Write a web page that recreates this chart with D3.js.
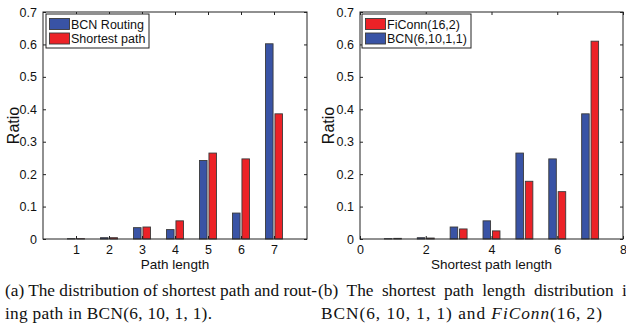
<!DOCTYPE html>
<html lang="en">
<head>
<meta charset="utf-8">
<title>Path length distribution</title>
<script src="https://d3js.org/d3.v7.min.js"></script>
<style>
  body { margin: 0; background: #fff; }
  svg text { font-family: "Liberation Sans", Arial, Helvetica, sans-serif; fill: #111; }
  .caption { font-family: "Liberation Serif", "Times New Roman", serif; font-size: 17.3px; }
</style>
</head>
<body>
<svg id="chart" width="626" height="330"></svg>
<script>
// ----- data -----
const lengthsA = [1, 2, 3, 4, 5, 6, 7];
const bcnRouting = [0.001, 0.004, 0.035, 0.029, 0.242, 0.080, 0.602];
const shortestPath = [0.001, 0.004, 0.037, 0.056, 0.265, 0.247, 0.386];

const lengthsB = [1, 2, 3, 4, 5, 6, 7];
const bcnShortest = [0.001, 0.004, 0.037, 0.056, 0.265, 0.247, 0.386];
const ficonnShortest = [0.002, 0.003, 0.031, 0.025, 0.178, 0.146, 0.610];

const yTicks = [0, 0.1, 0.2, 0.3, 0.4, 0.5, 0.6, 0.7];
const xTicksA = [1, 2, 3, 4, 5, 6, 7];
const xTicksB = [0, 2, 4, 6, 8];

// caption (b) first line is justified in the paper
const capBWords = ["(b)", "The", "shortest", "path", "length", "distribution", "in"];

const blue = "#3953a5";
const red = "#ec2227";

const svg = d3.select("#chart");

function drawPanel(cfg) {
  const top = 12, bottom = 239;
  const x = d3.scaleLinear().domain([0, 8]).range([cfg.left, cfg.right]);
  const y = d3.scaleLinear().domain([0, 0.7]).range([bottom, top]);
  const g = svg.append("g");

  // bars: MATLAB grouped style, width 0.229, offset +-0.143
  const bw = 0.229, off = 0.143;
  cfg.series.forEach(function (s, si) {
    const dx = si === 0 ? -off : off;
    g.selectAll(null)
      .data(s.values.map((v, i) => ({ k: cfg.cats[i], v: v })))
      .enter()
      .append("rect")
      .attr("x", d => x(d.k + dx - bw / 2))
      .attr("width", x(bw) - x(0))
      .attr("y", d => y(d.v))
      .attr("height", d => y(0) - y(d.v))
      .attr("fill", s.color)
      .attr("stroke", "#3a3a3a")
      .attr("stroke-width", 0.9);
  });

  // axes, MATLAB box with inward ticks
  const fmt = d => d === 0 ? "0" : d3.format(".1f")(d);
  g.append("g")
    .attr("transform", `translate(${cfg.left},0)`)
    .call(d3.axisLeft(y).tickValues(yTicks).tickFormat(fmt).tickSize(-3).tickPadding(6))
    .call(a => a.select(".domain").remove());
  g.append("g")
    .attr("transform", `translate(${cfg.right},0)`)
    .call(d3.axisRight(y).tickValues(yTicks).tickFormat("").tickSize(-3))
    .call(a => a.select(".domain").remove());
  g.append("g")
    .attr("transform", `translate(0,${bottom})`)
    .call(d3.axisBottom(x).tickValues(cfg.xTicks).tickFormat(d3.format("d")).tickSize(-3).tickPadding(6))
    .call(a => a.select(".domain").remove());
  g.append("g")
    .attr("transform", `translate(0,${top})`)
    .call(d3.axisTop(x).tickValues(cfg.xTicks).tickFormat("").tickSize(-3))
    .call(a => a.select(".domain").remove());
  g.selectAll(".tick text").style("font-size", "12.5px").attr("fill", "#111");
  g.selectAll(".tick line").attr("stroke", "#222");

  g.append("rect")
    .attr("x", cfg.left).attr("y", top)
    .attr("width", cfg.right - cfg.left).attr("height", bottom - top)
    .attr("fill", "none").attr("stroke", "#222").attr("stroke-width", 1);

  // axis titles
  g.append("text")
    .attr("transform", `translate(${cfg.yLabelX},${(top + bottom) / 2}) rotate(-90)`)
    .attr("text-anchor", "middle")
    .style("font-size", "16px")
    .text("Ratio");
  g.append("text")
    .attr("x", (cfg.left + cfg.right) / 2)
    .attr("y", 268.5)
    .attr("text-anchor", "middle")
    .style("font-size", "13.5px")
    .text(cfg.xLabel);

  // legend
  const lg = g.append("g").attr("transform", `translate(${cfg.legX},14)`);
  lg.append("rect")
    .attr("width", cfg.legW).attr("height", 34)
    .attr("fill", "#fff").attr("stroke", "#222").attr("stroke-width", 1);
  cfg.legend.forEach(function (s, i) {
    lg.append("rect")
      .attr("x", 3.5).attr("y", 4.5 + i * 14.5)
      .attr("width", 20).attr("height", 11)
      .attr("fill", s.color).attr("stroke", "#3a3a3a").attr("stroke-width", 0.9);
    lg.append("text")
      .attr("x", 25).attr("y", 14.5 + i * 14.5)
      .style("font-size", "12.5px")
      .text(s.name);
  });
}

drawPanel({
  left: 43, right: 307, cats: lengthsA, xTicks: xTicksA,
  series: [{ values: bcnRouting, color: blue }, { values: shortestPath, color: red }],
  legend: [{ name: "BCN Routing", color: blue }, { name: "Shortest path", color: red }],
  legX: 46, legW: 103, yLabelX: 19, xLabel: "Path length"
});

drawPanel({
  left: 360, right: 623, cats: lengthsB, xTicks: xTicksB,
  series: [{ values: bcnShortest, color: blue }, { values: ficonnShortest, color: red }],
  legend: [{ name: "FiConn(16,2)", color: red }, { name: "BCN(6,10,1,1)", color: blue }],
  legX: 362, legW: 109, yLabelX: 334, xLabel: "Shortest path length"
});

// captions
const cap = svg.append("g");
cap.append("text").attr("class", "caption").attr("x", 5).attr("y", 296)
  .attr("textLength", 312).attr("lengthAdjust", "spacing")
  .text("(a) The distribution of shortest path and rout-");
cap.append("text").attr("class", "caption").attr("x", 5).attr("y", 319)
  .attr("textLength", 207).attr("lengthAdjust", "spacing")
  .text("ing path in BCN(6, 10, 1, 1).");

// justified words: measure, then spread from 318 so the last word starts at 622
const bWords = cap.selectAll(null)
  .data(capBWords)
  .enter()
  .append("text")
  .attr("class", "caption")
  .attr("y", 296)
  .text(d => d);
const widths = bWords.nodes().map(n => n.getComputedTextLength());
const startX = 318, lastX = 622;
const used = d3.sum(widths.slice(0, -1));
const gap = (lastX - startX - used) / (widths.length - 1);
let cx = startX;
bWords.each(function (d, i) {
  d3.select(this).attr("x", cx);
  cx += widths[i] + gap;
});

const l2 = cap.append("text").attr("class", "caption").attr("x", 321).attr("y", 319)
  .attr("textLength", 281).attr("lengthAdjust", "spacing");
l2.append("tspan").text("BCN(6, 10, 1, 1) and ");
l2.append("tspan").style("font-style", "italic").text("FiConn");
l2.append("tspan").text("(16, 2)");
</script>
</body>
</html>
